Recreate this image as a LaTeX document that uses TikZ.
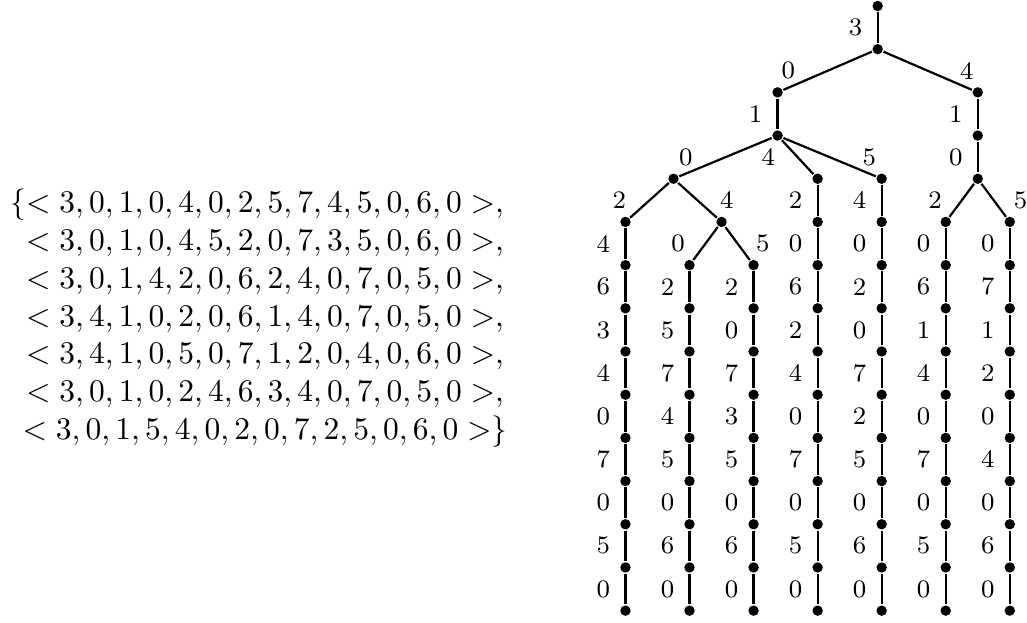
\documentclass[tikz,border=0pt]{standalone}
\usepackage{amsmath,amssymb}
\usepackage{tikz}
\usetikzlibrary{positioning}

\tikzset{
  dot/.style={circle, fill, inner sep=0pt, minimum size=3.3pt},
  lbl/.style={font=\footnotesize, inner sep=0pt},
  lft/.style={lbl, xshift=-7pt}
}

\begin{document}
\begin{tikzpicture}[line width=0.7pt, node distance=13.71pt and 20.33pt, on grid]
    \useasboundingbox (-278.6pt,1.9pt) rectangle (47.4pt,-195.6pt);

    \node (seqs) at (-194.5pt,-99.2pt) {$\begin{array}{c}
        \mathopen{\llap{$\{$}}< 3,0,1,0,4,0,2,5,7,4,5,0,6,0 >,\\
        < 3,0,1,0,4,5,2,0,7,3,5,0,6,0 >,\\
        < 3,0,1,4,2,0,6,2,4,0,7,0,5,0 >,\\
        < 3,4,1,0,2,0,6,1,4,0,7,0,5,0 >,\\
        < 3,4,1,0,5,0,7,1,2,0,4,0,6,0 >,\\
        < 3,0,1,0,2,4,6,3,4,0,7,0,5,0 >,\\
        < 3,0,1,5,4,0,2,0,7,2,5,0,6,0 >\}
    \end{array}$};

    \node[dot]  (r0)                                               {};
    \node[dot]  (r1)    [below=of r0]                              {};
    \node[dot]  (a2)    [below left=13.71pt and 31.77pt of r1]     {};
    \node[dot]  (b2)    [below right=13.71pt and 31.77pt of r1]    {};
    \node[dot]  (a3)    [below=of a2]                              {};
    \node[dot]  (b3)    [below=of b2]                              {};
    \node[dot]  (c4)    [below left=13.71pt and 33.04pt of a3]     {};
    \node[dot]  (d4)    [below right=13.71pt and 12.71pt of a3]    {};
    \node[dot]  (e4)    [below right=13.71pt and 33.04pt of a3]    {};
    \node[dot]  (f4)    [below=of b3]                              {};
    \node[dot]  (g5)    [below left=13.71pt and 15.25pt of c4]     {};
    \node[dot]  (h5)    [below right=13.71pt and 15.25pt of c4]    {};
    \node[dot]  (d5)    [below=of d4]                              {};
    \node[dot]  (e5)    [below=of e4]                              {};
    \node[dot]  (k5)    [below left=13.71pt and 10.17pt of f4]     {};
    \node[dot]  (m5)    [below right=13.71pt and 10.17pt of f4]    {};
    \node[dot]  (n0-6)  [below=of g5]                              {};
    \node[dot]  (n1-6)  [below left=13.71pt and 10.17pt of h5]     {};
    \node[dot]  (n2-6)  [below right=13.71pt and 10.17pt of h5]    {};
    \node[dot]  (n3-6)  [below=of d5]                              {};
    \node[dot]  (n4-6)  [below=of e5]                              {};
    \node[dot]  (n5-6)  [below=of k5]                              {};
    \node[dot]  (n6-6)  [below=of m5]                              {};

    \path (r0) edge node[lft] {3} (r1)
        (r1) edge node[lbl, xshift=-12.5pt] {0} (a2)
             edge node[lbl, xshift=12.4pt] {4} (b2)
        (a2) edge node[lft] {1} (a3)
        (b2) edge node[lft] {1} (b3)
        (a3) edge node[lbl, xshift=-12.6pt] {0} (c4)
             edge node[lbl, xshift=-9.3pt] {4} (d4)
             edge node[lbl, xshift=12.6pt] {5} (e4)
        (b3) edge node[lft] {0} (f4)
        (c4) edge node[lbl, xshift=-9.6pt] {2} (g5)
             edge node[lbl, xshift=9.3pt] {4} (h5)
        (d4) edge node[lft] {2} (d5)
        (e4) edge node[lft] {4} (e5)
        (f4) edge node[lbl, xshift=-8.5pt] {2} (k5)
             edge node[lbl, xshift=8.5pt] {5} (m5)
        (g5) edge node[lft] {4} (n0-6)
        (h5) edge node[lbl, xshift=-8.7pt] {0} (n1-6)
             edge node[lbl, xshift=8pt] {5} (n2-6)
        (d5) edge node[lft] {0} (n3-6)
        (e5) edge node[lft] {0} (n4-6)
        (k5) edge node[lft] {0} (n5-6)
        (m5) edge node[lft] {0} (n6-6)
        ;

    % the seven chains down to the leaves
    \foreach \col/\labs in {0/{6,3,4,0,7,0,5,0}, 1/{2,5,7,4,5,0,6,0},
                            2/{2,0,7,3,5,0,6,0}, 3/{6,2,4,0,7,0,5,0},
                            4/{2,0,7,2,5,0,6,0}, 5/{6,1,4,0,7,0,5,0},
                            6/{7,1,2,0,4,0,6,0}} {
        \foreach \d [count=\k from 7] in \labs {
            \pgfmathtruncatemacro\prev{\k-1}
            \node[dot] (n\col-\k) [below=of n\col-\prev] {};
            \path (n\col-\prev) edge node[lft] {\d} (n\col-\k);
        }
    }
\end{tikzpicture}
\end{document}
